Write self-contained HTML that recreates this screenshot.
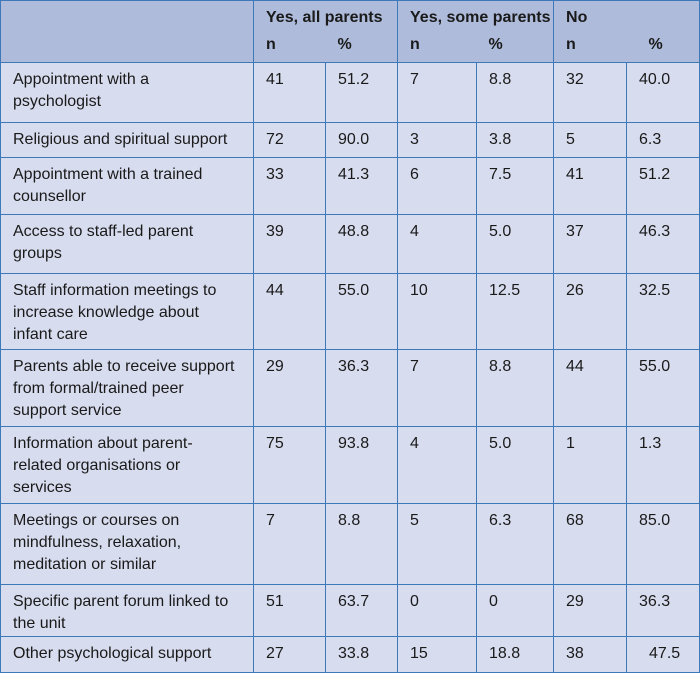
<!DOCTYPE html>
<html><head><meta charset="utf-8"><style>
body{margin:0;background:#fff;}
table{position:absolute;left:0;top:0;border-collapse:collapse;table-layout:fixed;width:699px;font-family:"Liberation Sans",sans-serif;font-size:16px;color:#1a1a1a;}
td,th{border:1.5px solid #3d78b8;vertical-align:top;padding:6px 0 0 12px;line-height:22px;text-align:left;box-sizing:border-box;white-space:nowrap;overflow:hidden;}
thead th{background:#aebbdb;font-weight:bold;}
tbody td{background:#d7dcee;}
thead tr.h2 th{padding-top:2px;}
thead tr.h1 th{border-bottom:none;}
thead tr.h2 th{border-top:none;}
thead tr.h2 th.in{border-left:none;}
thead tr.h2 th.l{border-right:none;}
</style></head><body>
<table>
<colgroup><col style="width:253px"><col style="width:72px"><col style="width:72px"><col style="width:79px"><col style="width:77px"><col style="width:73px"><col style="width:73px"></colgroup>
<thead>
<tr class="h1" style="height:31px">
<th rowspan="2"></th>
<th colspan="2">Yes, all parents</th>
<th colspan="2">Yes, some parents</th>
<th colspan="2">No</th>
</tr>
<tr class="h2" style="height:31px">
<th class="l">n</th><th class="in">%</th>
<th class="l">n</th><th class="in">%</th>
<th class="l">n</th><th class="in" style="padding-left:22px">%</th>
</tr>
</thead>
<tbody>
<tr style="height:60px"><td>Appointment with a<br>psychologist</td><td>41</td><td>51.2</td><td>7</td><td>8.8</td><td>32</td><td>40.0</td></tr>
<tr style="height:35px"><td>Religious and spiritual support</td><td>72</td><td>90.0</td><td>3</td><td>3.8</td><td>5</td><td>6.3</td></tr>
<tr style="height:57px"><td>Appointment with a trained<br>counsellor</td><td>33</td><td>41.3</td><td>6</td><td>7.5</td><td>41</td><td>51.2</td></tr>
<tr style="height:59px"><td>Access to staff-led parent<br>groups</td><td>39</td><td>48.8</td><td>4</td><td>5.0</td><td>37</td><td>46.3</td></tr>
<tr style="height:76px"><td>Staff information meetings to<br>increase knowledge about<br>infant care</td><td>44</td><td>55.0</td><td>10</td><td>12.5</td><td>26</td><td>32.5</td></tr>
<tr style="height:77px"><td>Parents able to receive support<br>from formal/trained peer<br>support service</td><td>29</td><td>36.3</td><td>7</td><td>8.8</td><td>44</td><td>55.0</td></tr>
<tr style="height:77px"><td>Information about parent-<br>related organisations or<br>services</td><td>75</td><td>93.8</td><td>4</td><td>5.0</td><td>1</td><td>1.3</td></tr>
<tr style="height:81px"><td>Meetings or courses on<br>mindfulness, relaxation,<br>meditation or similar</td><td>7</td><td>8.8</td><td>5</td><td>6.3</td><td>68</td><td>85.0</td></tr>
<tr style="height:52px"><td>Specific parent forum linked to<br>the unit</td><td>51</td><td>63.7</td><td>0</td><td>0</td><td>29</td><td>36.3</td></tr>
<tr style="height:36px"><td>Other psychological support</td><td>27</td><td>33.8</td><td>15</td><td>18.8</td><td>38</td><td style="padding-left:22px">47.5</td></tr>
</tbody>
</table>
</body></html>
